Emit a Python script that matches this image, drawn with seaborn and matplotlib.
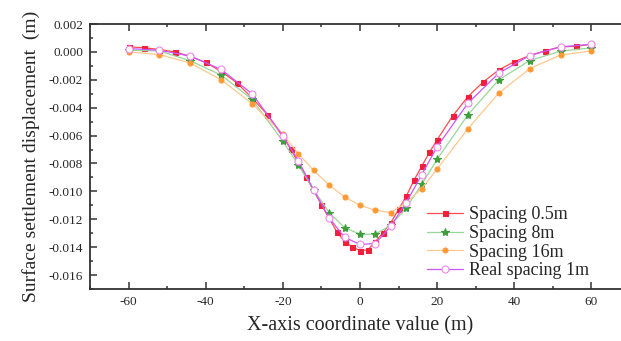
import numpy as np
import pandas as pd
import seaborn as sns
import matplotlib
matplotlib.use('Agg')
import matplotlib.pyplot as plt
from matplotlib.ticker import MultipleLocator, FuncFormatter

# Spacing 0.5m (red squares)
x_05 = [-60, -56, -52, -48, -44, -40, -36, -32, -28, -24, -20, -18, -14, -10, -6, -4, -2, 0, 2, 4,
        6, 8, 10, 12, 14, 16, 18, 20, 24, 28, 32, 36, 40, 44, 48, 52, 56, 60]
y_05 = [0.00036, 0.0003, 0.00017, 0.0, -0.00032, -0.00076, -0.0014, -0.0022, -0.0033, -0.0045,
        -0.0061, -0.00695, -0.00896, -0.01096, -0.0129, -0.01362, -0.01398, -0.01424, -0.0142, -0.0136,
        -0.01295, -0.01224, -0.01129, -0.01034, -0.0092, -0.0082, -0.0072, -0.0063, -0.0046, -0.0032,
        -0.00214, -0.00129, -0.0007, -0.00026, 0.00008, 0.00036, 0.0004, 0.00055]

# Spacing 8m (green stars)
x_8 = [-60, -52, -44, -36, -28, -20, -16, -12, -8, -4, 0, 4, 8, 12, 16, 20, 28, 36, 44, 52, 60]
y_8 = [0.00012, 0.00007, -0.00064, -0.00166, -0.0034, -0.0064, -0.0081, -0.0099, -0.01152, -0.0126,
       -0.01307, -0.01307, -0.01243, -0.01117, -0.0095, -0.0077, -0.0045, -0.002, -0.00062, 0.00005,
       0.00029]

# Spacing 16m (orange dots)
x_16 = [-60, -52, -44, -36, -28, -20, -16, -12, -8, -4, 0, 4, 8, 12, 16, 20, 28, 36, 44, 52, 60]
y_16 = [0.0, -0.00019, -0.0008, -0.002, -0.0037, -0.0059, -0.0073, -0.0085, -0.00955, -0.0104,
        -0.011, -0.01136, -0.01152, -0.0108, -0.0098, -0.0084, -0.0055, -0.00295, -0.0012, -0.00022,
        0.00007]

# Real spacing 1m (magenta open circles)
x_1 = [-60, -52, -44, -36, -28, -20, -16, -12, -8, -4, 0, 4, 8, 12, 16, 20, 28, 36, 44, 52, 60]
y_1 = [0.00024, 0.00012, -0.0003, -0.00126, -0.003, -0.006, -0.0078, -0.0099, -0.0119, -0.0133,
       -0.0138, -0.01374, -0.01248, -0.0108, -0.0088, -0.0068, -0.00367, -0.00152, -0.00026, 0.00036,
       0.00055]

series = [
    ('Spacing 0.5m', x_05, y_05, 's', '#ff4d4d', '#f0203a', '#f0203a'),
    ('Spacing 8m', x_8, y_8, '*', '#99d699', '#3d9e3d', '#3d9e3d'),
    ('Spacing 16m', x_16, y_16, 'o', '#ffc88f', '#ff9a33', '#ff9a33'),
    ('Real spacing 1m', x_1, y_1, 'o', '#cc55ff', 'white', '#ee88ee'),
]

sns.set_style('ticks')
plt.rcParams['font.family'] = ['Liberation Serif', 'DejaVu Serif']
plt.rcParams['axes.unicode_minus'] = False

fig = plt.figure(figsize=(6.21, 3.41), dpi=100)
ax = fig.add_axes([90 / 621, 52 / 341, 540 / 621, 265 / 341])

for label, xs, ys, mk, lc, fc, ec in series:
    df = pd.DataFrame({'x': xs, 'y': ys})
    ms = 6 if mk == '*' else (5 if label.startswith('Real') else 3.6)
    sns.lineplot(data=df, x='x', y='y', ax=ax, color=lc, linewidth=0.9, marker=mk,
                 markersize=ms, markerfacecolor=fc, markeredgecolor=ec, markeredgewidth=0.8,
                 label=label)

ax.set_xlim(-70, 70)
ax.set_ylim(-0.017, 0.002)
ax.xaxis.set_major_locator(MultipleLocator(20))
ax.xaxis.set_minor_locator(MultipleLocator(10))
ax.yaxis.set_major_locator(MultipleLocator(0.002))
ax.yaxis.set_minor_locator(MultipleLocator(0.001))
ax.yaxis.set_major_formatter(FuncFormatter(lambda v, p: f'{v:.3f}'))
ax.xaxis.set_major_formatter(FuncFormatter(lambda v, p: f'{v:.0f}'))

ax.tick_params(which='both', direction='in', top=True, right=False, width=1.1, color='#333333')
ax.tick_params(which='major', length=5, labelsize=9.5, pad=5)
ax.tick_params(which='minor', length=2.5)
for s in ['left', 'bottom', 'top']:
    ax.spines[s].set_linewidth(1.3)
    ax.spines[s].set_color('#333333')
ax.spines['right'].set_visible(False)

ax.set_xlabel('X-axis coordinate value (m)', fontsize=14.5, labelpad=6)
ax.set_ylabel('Surface settlement displacement  (m)', fontsize=14, labelpad=6)

ax.legend(loc='upper left', bbox_to_anchor=(418 / 621, 1 - 197 / 341), bbox_transform=fig.transFigure,
          frameon=False, fontsize=13, labelspacing=0.1, handlelength=2.0, handletextpad=0.35,
          borderpad=0)

fig.savefig('out.png', dpi=100)
